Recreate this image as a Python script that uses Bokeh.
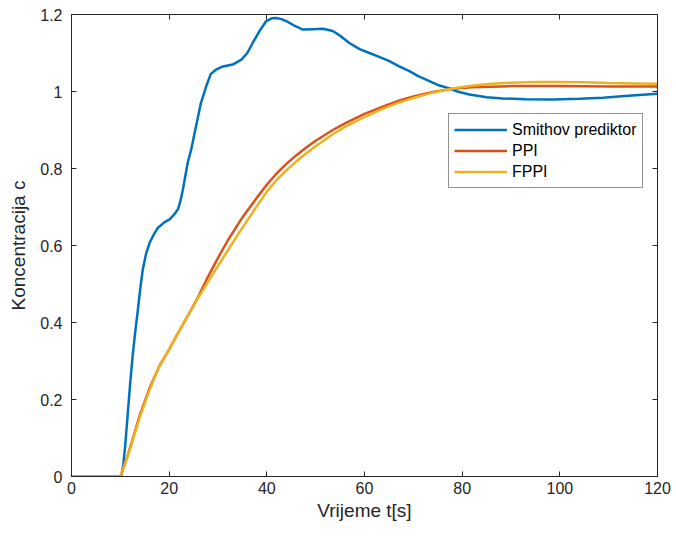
from bokeh.plotting import figure
from bokeh.models import (LinearAxis, FixedTicker, NumeralTickFormatter, Legend, LegendItem, Range1d)
from bokeh.embed import file_html
from bokeh.resources import INLINE

# ---- data ----
t_smith = [0, 10, 10.2, 10.6, 11.0, 11.5, 12.0, 12.5, 13.0, 13.6, 14.1, 14.6, 15.3, 16.0, 17.0, 17.7,
           19.0, 20.1, 21.0, 21.8, 22.3, 22.8, 23.8, 24.5, 25.5, 26.5, 27.6, 28.5, 29.6, 31.0, 33.0,
           34.8, 36.0, 37.1, 38.5, 39.9, 41.0, 41.9, 43.0, 44.0, 45.5, 47.4, 49.5, 51.5, 53.5, 55.0,
           56.9, 59.0, 61.0, 63.0, 65.1, 67.0, 69.2, 71.0, 73.3, 75.0, 77.4, 79.0, 81.5, 85.0, 88.3,
           93.0, 98.6, 104.0, 108.8, 114.0, 120.0]
c_smith = [0, 0, 0, 0.03, 0.08, 0.16, 0.24, 0.31, 0.37, 0.434, 0.49, 0.538, 0.58, 0.607, 0.632, 0.646,
           0.66, 0.668, 0.68, 0.694, 0.715, 0.745, 0.815, 0.849, 0.91, 0.97, 1.014, 1.045, 1.057, 1.065, 1.07,
           1.083, 1.10, 1.126, 1.157, 1.183, 1.19, 1.191, 1.188, 1.183, 1.172, 1.161, 1.162, 1.163, 1.157, 1.145,
           1.126, 1.11, 1.10, 1.09, 1.079, 1.066, 1.053, 1.04, 1.027, 1.017, 1.008, 1.0, 0.992, 0.985, 0.982,
           0.98, 0.979, 0.981, 0.984, 0.989, 0.994]

t_ppi = [0, 10, 11, 12, 14, 16, 18, 20, 22, 24, 26, 28, 30, 32, 35, 38, 40, 42, 44, 46, 48, 50,
         53.5, 56, 60, 64, 67, 70, 74, 78, 82, 90, 100, 110, 120]
c_ppi = [0, 0, 0.035, 0.075, 0.16, 0.23, 0.287, 0.33, 0.377, 0.422, 0.468, 0.52, 0.568, 0.613, 0.673,
         0.725, 0.758, 0.787, 0.812, 0.834, 0.854, 0.872, 0.9, 0.917, 0.942, 0.962, 0.976, 0.987, 0.999,
         1.007, 1.011, 1.014, 1.014, 1.013, 1.013]

t_fppi = [0, 10, 11, 12, 14, 16, 18, 20, 22, 24, 26, 28, 30, 32, 34, 36, 38, 40, 42, 44, 46, 48, 50,
          53.5, 56, 60, 64, 67, 70, 74, 78, 82, 86, 90, 95, 100, 105, 110, 115, 120]
c_fppi = [0, 0, 0.035, 0.072, 0.155, 0.225, 0.287, 0.33, 0.377, 0.422, 0.465, 0.507, 0.547, 0.587,
          0.627, 0.665, 0.703, 0.74, 0.77, 0.795, 0.818, 0.839, 0.858, 0.889, 0.908, 0.934, 0.956, 0.971,
          0.983, 0.997, 1.008, 1.015, 1.02, 1.023, 1.025, 1.025, 1.024, 1.022, 1.021, 1.02]

x_ticks = [0, 20, 40, 60, 80, 100, 120]
y_ticks = [0, 0.2, 0.4, 0.6, 0.8, 1.0, 1.2]
series_names = ["Smithov prediktor", "PPI", "FPPI"]
series_colors = ["#0072BD", "#D95319", "#EDB120"]

FONT = "Liberation Sans"
AX = "#262626"

p = figure(width=672, height=532, output_backend="svg", toolbar_location=None,
           x_range=Range1d(0, 120), y_range=Range1d(0, 1.2),
           min_border_left=71, min_border_right=15, min_border_top=14, min_border_bottom=56)
p.grid.visible = False
p.outline_line_color = AX
p.outline_line_width = 1

xt = FixedTicker(ticks=x_ticks)
yt = FixedTicker(ticks=y_ticks)

bottom = p.below[0]
left = p.left[0]
bottom.ticker = xt
left.ticker = yt
left.formatter = NumeralTickFormatter(format="0.[0]")
bottom.axis_label = "Vrijeme t[s]"
left.axis_label = "Koncentracija c"

top = LinearAxis(ticker=xt)
right = LinearAxis(ticker=yt)
p.add_layout(top, "above")
p.add_layout(right, "right")

for ax in [bottom, left, top, right]:
    ax.axis_line_color = AX
    ax.major_tick_line_color = AX
    ax.major_tick_in = 5
    ax.major_tick_out = 0
    ax.minor_tick_line_color = None
    ax.major_label_text_color = AX
    ax.major_label_text_font = FONT
    ax.major_label_text_font_size = "16px"
    ax.axis_label_text_font = FONT
    ax.axis_label_text_font_size = "19px"
    ax.axis_label_text_font_style = "normal"
    ax.axis_label_text_color = AX

for ax in [top, right]:
    ax.major_label_text_color = None
    ax.major_label_text_font_size = "1px"
    ax.major_label_standoff = 0

bottom.major_label_standoff = 5
bottom.axis_label_standoff = 3
left.major_label_standoff = 9
left.axis_label_standoff = 8

r1 = p.line(t_smith, c_smith, line_color=series_colors[0], line_width=2.5)
r2 = p.line(t_ppi, c_ppi, line_color=series_colors[1], line_width=2.5)
r3 = p.line(t_fppi, c_fppi, line_color=series_colors[2], line_width=2.5)

legend = Legend(items=[LegendItem(label=series_names[0], renderers=[r1]),
                       LegendItem(label=series_names[1], renderers=[r2]),
                       LegendItem(label=series_names[2], renderers=[r3])],
                location=(377, 288), margin=0, padding=5, spacing=0,
                label_height=21, glyph_height=21, glyph_width=53, label_standoff=5,
                label_text_font=FONT, label_text_font_size="16px", label_text_color="#000000",
                border_line_color=AX, border_line_width=1, background_fill_alpha=1)
p.add_layout(legend, "center")

open("out.html", "w").write(file_html(p, INLINE))
